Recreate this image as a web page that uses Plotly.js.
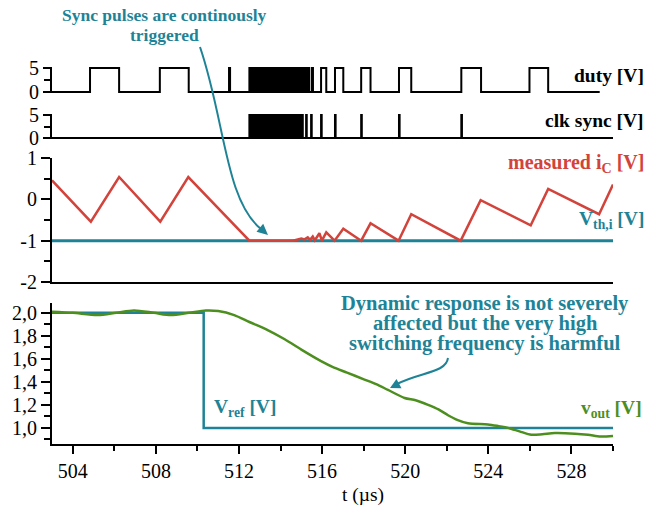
<!DOCTYPE html>
<html><head><meta charset="utf-8">
<script src="https://cdn.plot.ly/plotly-3.0.1.min.js"></script>
<style>html,body{margin:0;padding:0;background:#fff}</style>
</head><body><div id="chart" style="width:647px;height:514px"></div>
<script>
// ---------- data ----------
const tStart = 503.0, tEnd = 530.0;
// duty signal: high intervals
const dutyHighStart = [504.83, 508.19, 511.52, 515.32, 515.50, 515.95, 516.62, 517.88, 519.70, 522.70, 525.98];
const dutyHighEnd   = [506.23, 509.58, 511.57, 515.37, 515.56, 516.20, 517.02, 518.33, 520.29, 523.65, 526.88];
const dutyBurst = [512.50, 515.24];
const dutyLast = 529.36;
const dutyLevel = 5;
// clk sync pulses
const clkSpikes = [515.23, 515.47, 515.95, 516.62, 517.88, 519.70, 522.70];
const clkSpikeWidth = 0.03;
const clkBurst = [512.50, 515.07];
// measured iC
const icT = [503.0, 504.87, 506.23, 508.21, 509.56, 512.5, 514.6, 514.8, 515.0, 515.15, 515.31, 515.42, 515.55, 515.65, 515.87, 515.99, 516.2, 516.6, 517.02, 517.88, 518.33, 519.68, 520.29, 522.67, 523.63, 526.04, 526.88, 529.33, 530.0];
const icV = [0.46, -0.54, 0.54, -0.54, 0.54, -1.0, -1.0, -0.97, -0.95, -0.97, -0.92, -0.98, -0.90, -0.99, -0.82, -1.0, -0.80, -1.0, -0.71, -1.0, -0.58, -1.0, -0.36, -1.0, -0.02, -0.63, 0.25, -0.36, 0.36];
const vthT = [503.0, 530.0];
const vthV = [-1, -1];
// Vref and vout
const vrefT = [503.0, 510.3, 510.3, 530.0];
const vrefV = [2.0, 2.0, 1.0, 1.0];
const voutT = [503.0, 504.0, 505.2, 506.1, 506.95, 507.9, 508.72, 509.6, 510.4, 511.0, 511.77, 512.5, 513.38, 514.2, 515.0, 515.95, 516.5, 517.2, 518.04, 518.6, 519.17, 519.97, 520.5, 521.1, 521.6, 522.06, 522.5, 523.02, 523.98, 524.5, 524.95, 525.5, 526.07, 526.6, 527.2, 528.16, 528.8, 529.4, 530.0];
const voutV = [2.01, 2.0, 1.98, 2.0, 2.02, 2.0, 1.98, 2.0, 2.02, 2.015, 1.98, 1.92, 1.85, 1.77, 1.68, 1.58, 1.53, 1.48, 1.42, 1.38, 1.33, 1.26, 1.24, 1.20, 1.16, 1.11, 1.07, 1.04, 1.03, 1.015, 1.0, 0.97, 0.94, 0.945, 0.955, 0.95, 0.94, 0.925, 0.93];
// tick labels
const xTickVals = [504, 508, 512, 516, 520, 524, 528];
const xTickLabels = ['504','508','512','516','520','524','528'];
const pulseTickVals = [0, 5];
const pulseTickLabels = ['0', '5'];
const icTickVals = [-2, -1, 0, 1];
const icTickLabels = ['-2', '-1', '0', '1'];

// ---------- build step traces ----------
function stepFrom(starts, ends, last){
  const x=[tStart], y=[0];
  for(let i=0;i<starts.length;i++){ x.push(starts[i],starts[i],ends[i],ends[i]); y.push(0,dutyLevel,dutyLevel,0); }
  x.push(last); y.push(0);
  return {x,y};
}
const duty = stepFrom(dutyHighStart, dutyHighEnd, dutyLast);
const clk = stepFrom(clkSpikes, clkSpikes.map(s=>s+clkSpikeWidth), tEnd);

const RED='#d2433b', TEAL='#1e8396', GREEN='#4d8f1f';
const traces = [
  {x:duty.x, y:duty.y, xaxis:'x', yaxis:'y', mode:'lines', line:{color:'#000', width:2}},
  {x:[dutyBurst[0],dutyBurst[0],dutyBurst[1],dutyBurst[1]], y:[0,dutyLevel,dutyLevel,0], xaxis:'x', yaxis:'y', mode:'lines', fill:'toself', fillcolor:'#000', line:{color:'#000', width:2}},
  {x:clk.x, y:clk.y, xaxis:'x2', yaxis:'y2', mode:'lines', line:{color:'#000', width:2}},
  {x:[clkBurst[0],clkBurst[0],clkBurst[1],clkBurst[1]], y:[0,dutyLevel,dutyLevel,0], xaxis:'x2', yaxis:'y2', mode:'lines', fill:'toself', fillcolor:'#000', line:{color:'#000', width:2}},
  {x:vthT, y:vthV, xaxis:'x3', yaxis:'y3', mode:'lines', line:{color:TEAL, width:3}},
  {x:icT, y:icV, xaxis:'x3', yaxis:'y3', mode:'lines', line:{color:RED, width:2.5}},
  {x:vrefT, y:vrefV, xaxis:'x4', yaxis:'y4', mode:'lines', line:{color:TEAL, width:2.5}},
  {x:voutT, y:voutV, xaxis:'x4', yaxis:'y4', mode:'lines', line:{color:GREEN, width:2.5, shape:'spline', smoothing:0.8}}
];

// ---------- layout helpers (pixel positions -> paper) ----------
const L=52, R=34, T=60, B=70, W=647, H=514;
const pw=W-L-R, ph=H-T-B;
const px=(x)=>(x-L)/pw, py=(y)=>(H-B-y)/ph;
const pt=(x,y)=>`${px(x)},${py(y)}`;

const tickFont={family:'Liberation Serif, Times New Roman, serif', size:20, color:'#000'};
const hiddenX = (anchor)=>({range:[tStart,tEnd], anchor:anchor, showline:false, showticklabels:false, ticks:'', showgrid:false, zeroline:false});
const baseY = {showgrid:false, zeroline:false, showline:true, linecolor:'#000', linewidth:2, ticks:'outside', tickcolor:'#000', tickwidth:2, tickfont:tickFont};

function label(x, y, text, size, color, anchor){
  return {xref:'paper', yref:'paper', x:px(x), y:py(y), xanchor:anchor, yanchor:'middle', showarrow:false,
          text:text, font:{size:size, color:color}};
}

const layout = {
  width:W, height:H, margin:{l:L, r:R, t:T, b:B},
  paper_bgcolor:'#fff', plot_bgcolor:'#fff', showlegend:false,
  separators:', ',
  font:{family:'Liberation Serif, Times New Roman, serif', color:'#000'},
  xaxis: hiddenX('y'),
  xaxis2: hiddenX('y2'),
  xaxis3: Object.assign(hiddenX('y3'), {showline:true, linecolor:'#000', linewidth:2}),
  xaxis4: {range:[tStart,tEnd], anchor:'y4', showgrid:false, zeroline:false, showline:true, linecolor:'#000', linewidth:2,
           ticks:'outside', ticklen:8, tickwidth:2, tickcolor:'#000', tickvals:xTickVals, ticktext:xTickLabels, tickfont:tickFont,
           minor:{dtick:2, tick0:0, ticks:'outside', ticklen:5, tickwidth:2, tickcolor:'#000'}},
  yaxis: Object.assign({}, baseY, {domain:[py(93), py(67)], range:[-0.2,5.2], tickvals:pulseTickVals, ticktext:pulseTickLabels, ticklen:7,
           minor:{tickvals:[2.5], ticks:'outside', ticklen:6, tickwidth:2, tickcolor:'#000'}}),
  yaxis2: Object.assign({}, baseY, {domain:[py(138.9), py(114.1)], range:[-0.2,5.2], tickvals:pulseTickVals, ticktext:pulseTickLabels, ticklen:7,
           minor:{tickvals:[2.5], ticks:'outside', ticklen:6, tickwidth:2, tickcolor:'#000'}}),
  yaxis3: Object.assign({}, baseY, {domain:[py(282), py(158)], range:[-2,1], tickvals:icTickVals, ticktext:icTickLabels, ticklen:9,
           minor:{dtick:0.5, tick0:0, ticks:'outside', ticklen:6, tickwidth:2, tickcolor:'#000'}}),
  yaxis4: Object.assign({}, baseY, {domain:[0, py(303)], range:[0.86,2.085], dtick:0.2, tick0:0, tickformat:'.1f', ticklen:9,
           minor:{dtick:0.1, tick0:0, ticks:'outside', ticklen:6, tickwidth:2, tickcolor:'#000'}}),
  shapes:[
    {type:'path', xref:'paper', yref:'paper', line:{color:TEAL, width:2},
     path:`M ${pt(200,47)} C ${pt(225,120)} ${pt(225,200)} ${pt(261,229)}`},
    {type:'path', xref:'paper', yref:'paper', line:{color:TEAL, width:0}, fillcolor:TEAL,
     path:`M ${pt(268,235)} L ${pt(256.5,231.8)} L ${pt(263.2,223.8)} Z`},
    {type:'path', xref:'paper', yref:'paper', line:{color:TEAL, width:2},
     path:`M ${pt(448,358)} C ${pt(446,373)} ${pt(420,372)} ${pt(397,384)}`},
    {type:'path', xref:'paper', yref:'paper', line:{color:TEAL, width:0}, fillcolor:TEAL,
     path:`M ${pt(390,388)} L ${pt(401.5,388.2)} L ${pt(396.5,379.0)} Z`}
  ],
  annotations:[
    label(164, 15, '<b>Sync pulses are continously</b>', 17.5, TEAL, 'center'),
    label(164, 35, '<b>triggered</b>', 17.5, TEAL, 'center'),
    label(485, 303, '<b>Dynamic response is not severely</b>', 20.5, TEAL, 'center'),
    label(485, 323, '<b>affected but the very high</b>', 20.5, TEAL, 'center'),
    label(485, 343, '<b>switching frequency is harmful</b>', 20.5, TEAL, 'center'),
    label(646, 76, '<b>duty [V]</b>', 19.5, '#000', 'right'),
    label(646, 120, '<b>clk sync [V]</b>', 19.5, '#000', 'right'),
    label(646, 163, '<b>measured i<sub>C</sub> [V]</b>', 20, RED, 'right'),
    label(646, 220, '<b>V<sub>th,i</sub> [V]</b>', 19.5, TEAL, 'right'),
    label(212, 408, '<b>V<sub>ref</sub> [V]</b>', 19.5, TEAL, 'left'),
    label(644, 409, '<b>v<sub>out</sub> [V]</b>', 19.5, GREEN, 'right'),
    label(363, 495, 't (\u00b5s)', 19.5, '#000', 'center')
  ]
};
Plotly.newPlot('chart', traces, layout, {displayModeBar:false, staticPlot:true});
</script></body></html>
